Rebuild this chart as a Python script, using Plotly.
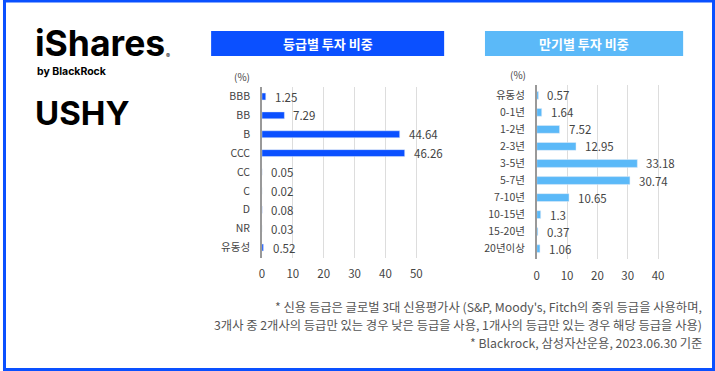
import plotly.graph_objects as go

W, H = 715, 371

grade_cats = ["BBB", "BB", "B", "CCC", "CC", "C", "D", "NR", "유동성"]
grade_vals = [1.25, 7.29, 44.64, 46.26, 0.05, 0.02, 0.08, 0.03, 0.52]
grade_labels = ["1.25", "7.29", "44.64", "46.26", "0.05", "0.02", "0.08", "0.03", "0.52"]

mat_cats = ["유동성", "0-1년", "1-2년", "2-3년", "3-5년", "5-7년", "7-10년", "10-15년", "15-20년", "20년이상"]
mat_vals = [0.57, 1.64, 7.52, 12.95, 33.18, 30.74, 10.65, 1.3, 0.37, 1.06]
mat_labels = ["0.57", "1.64", "7.52", "12.95", "33.18", "30.74", "10.65", "1.3", "0.37", "1.06"]

left_ticks = [0, 10, 20, 30, 40, 50]
right_ticks = [0, 10, 20, 30, 40]

FONT = "Noto Sans CJK KR"
BLUE = "#0b50ff"
SKY = "#5bb9f8"


def px(x):
    return x / W


def py(y):
    return 1 - y / H


def note(x, y, text, size, color="#444", family=FONT, xanchor="center"):
    return dict(x=px(x), y=py(y), xref="paper", yref="paper", text=text, showarrow=False,
                xanchor=xanchor, yanchor="middle", font=dict(family=family, size=size, color=color))


fig = go.Figure()
fig.add_trace(go.Bar(x=grade_vals, y=grade_cats, orientation="h", marker_color=BLUE,
                     width=0.37, xaxis="x", yaxis="y", showlegend=False, hoverinfo="x+y"))
fig.add_trace(go.Bar(x=mat_vals, y=mat_cats, orientation="h", marker_color=SKY,
                     width=0.46, xaxis="x2", yaxis="y2", showlegend=False, hoverinfo="x+y"))

annotations = []
for v, c, t in zip(grade_vals, grade_cats, grade_labels):
    annotations.append(dict(x=v, y=c, xref="x", yref="y", text=t, showarrow=False,
                            xanchor="left", yanchor="middle", xshift=7,
                            font=dict(family=FONT, size=11.5, color="#444")))
for v, c, t in zip(mat_vals, mat_cats, mat_labels):
    annotations.append(dict(x=v, y=c, xref="x2", yref="y2", text=t, showarrow=False,
                            xanchor="left", yanchor="middle", xshift=7,
                            font=dict(family=FONT, size=11.5, color="#444")))

# (%) unit labels
annotations.append(note(240, 77, "(%)", 10))
annotations.append(note(517, 75, "(%)", 10))

# Title bars
shapes = [
    dict(type="rect", xref="paper", yref="paper", x0=px(209), x1=px(443), y0=py(56), y1=py(31),
         fillcolor=BLUE, line=dict(width=0)),
    dict(type="rect", xref="paper", yref="paper", x0=px(484), x1=px(683), y0=py(56), y1=py(31),
         fillcolor=SKY, line=dict(width=0)),
    dict(type="rect", xref="paper", yref="paper", x0=px(1.5), x1=px(W - 1.5), y0=py(H - 1.5), y1=py(1),
         fillcolor="rgba(0,0,0,0)", line=dict(color="#0a50ff", width=3)),
]
annotations.append(note(326, 43.5, "<b>등급별 투자 비중</b>", 13, "white"))
annotations.append(note(583.5, 43.5, "<b>만기별 투자 비중</b>", 13, "white"))

# Logo
annotations.append(note(30, 43, "<b>iShares</b>", 35.5, "#000", "Inter", "left"))
annotations.append(note(162, 55, "®", 6, "#000", "Inter", "left"))
annotations.append(note(32, 71, "<b>by BlackRock</b>", 10.5, "#000", "Inter", "left"))
annotations.append(note(30, 113, "<b>USHY</b>", 33, "#000", "Inter", "left"))

# Footnotes
notes = [
    "* 신용 등급은 글로벌 3대 신용평가사 (S&P, Moody's, Fitch의 중위 등급을 사용하며,",
    "3개사 중 2개사의 등급만 있는 경우 낮은 등급을 사용, 1개사의 등급만 있는 경우 해당 등급을 사용)",
    "* Blackrock, 삼성자산운용, 2023.06.30 기준",
]
for i, n in enumerate(notes):
    annotations.append(note(704, 307 + 18 * i, n, 12.3, "#555", FONT, "right"))

axis_common = dict(showgrid=True, gridcolor="#dddddd", gridwidth=1, zeroline=False,
                   ticks="outside", ticklen=6, tickcolor="rgba(0,0,0,0)",
                   tickfont=dict(family=FONT, size=11.5, color="#444"), fixedrange=True)
yaxis_common = dict(showgrid=False, zeroline=False, showline=True, linecolor="#999", linewidth=1.5,
                    autorange="reversed", ticks="outside", ticklen=8, tickcolor="rgba(0,0,0,0)",
                    tickfont=dict(family=FONT, size=10.5, color="#444"), fixedrange=True)

fig.update_layout(
    width=W, height=H,
    margin=dict(l=0, r=0, t=0, b=0),
    paper_bgcolor="white", plot_bgcolor="white",
    bargap=0.5,
    xaxis=dict(domain=[px(260), px(446)], range=[0, 60], tickvals=left_ticks, anchor="y", **axis_common),
    yaxis=dict(domain=[py(257.5), py(86.5)], anchor="x", categoryorder="array", categoryarray=grade_cats,
               **yaxis_common),
    xaxis2=dict(domain=[px(536), px(673)], range=[0, 45], tickvals=right_ticks, anchor="y2", **axis_common),
    yaxis2=dict(domain=[py(258.7), py(85.3)], anchor="x2", categoryorder="array", categoryarray=mat_cats,
                **yaxis_common),
    shapes=shapes,
    annotations=annotations,
)

fig.write_html("out.html", config={"displayModeBar": False},
               post_script="document.body.style.margin='0';document.body.style.overflow='hidden';")
